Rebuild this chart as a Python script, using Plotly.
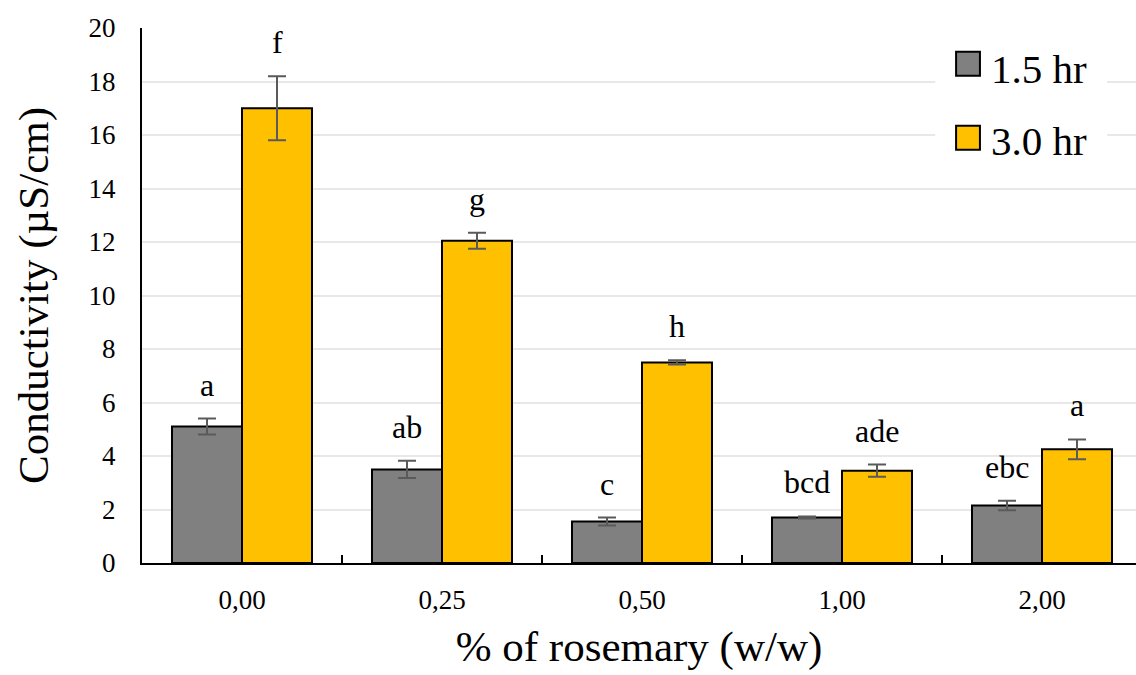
import plotly.graph_objects as go

# Conductivity of samples by rosemary content, measured after 1.5 h and 3.0 h
categories = ["0,00", "0,25", "0,50", "1,00", "2,00"]

cond_15 = [5.1, 3.5, 1.55, 1.7, 2.15]
err_15 = [0.3, 0.32, 0.15, 0.04, 0.18]
letters_15 = ["a", "ab", "c", "bcd", "ebc"]

cond_30 = [17.0, 12.05, 7.5, 3.45, 4.25]
err_30 = [1.2, 0.3, 0.08, 0.23, 0.37]
letters_30 = ["f", "g", "h", "ade", "a"]

series_names = ["1.5 hr", "3.0 hr"]
y_ticks = list(range(0, 21, 2))

GRAY = "#808080"
GOLD = "#FFC000"
ERR = "#5a5a5a"
FONT = "Liberation Serif"

fig = go.Figure()

for name, vals, errs, color in [
    (series_names[0], cond_15, err_15, GRAY),
    (series_names[1], cond_30, err_30, GOLD),
]:
    fig.add_trace(go.Bar(
        name=name,
        x=categories,
        y=vals,
        marker=dict(color=color, line=dict(color="black", width=2)),
        error_y=dict(type="data", array=errs, visible=True,
                     color=ERR, thickness=2, width=9),
        showlegend=False,
    ))

# significance letters above each error bar
for vals, errs, letters, offset in [
    (cond_15, err_15, letters_15, -0.175),
    (cond_30, err_30, letters_30, 0.175),
]:
    for i, (v, e, t) in enumerate(zip(vals, errs, letters)):
        fig.add_annotation(
            x=i + offset, y=v + e, xref="x", yref="y",
            text=t, showarrow=False, yanchor="middle", yshift=34,
            font=dict(family=FONT, size=32, color="black"),
        )

# legend box drawn in paper space
legend_items = [(series_names[0], GRAY, 0.933, 0.924), (series_names[1], GOLD, 0.795, 0.789)]
fig.add_shape(type="rect", xref="paper", yref="paper",
              x0=0.798, x1=0.971, y0=0.744, y1=0.978,
              fillcolor="white", line=dict(width=0), layer="above")
for label, color, ys, yt in legend_items:
    fig.add_shape(type="rect", xref="paper", yref="paper",
                  x0=0.819, x1=0.843, y0=ys - 0.0224, y1=ys + 0.0224,
                  fillcolor=color, line=dict(color="black", width=2), layer="above")
    fig.add_annotation(x=0.852, y=yt, xref="paper", yref="paper",
                       text=label, showarrow=False, xanchor="left", yanchor="middle",
                       font=dict(family=FONT, size=41, color="black"))

fig.update_layout(
    width=1136, height=675,
    margin=dict(l=142, r=0, t=28, b=112),
    paper_bgcolor="white", plot_bgcolor="white",
    barmode="group", bargap=0.3, bargroupgap=0.0,
    font=dict(family=FONT, color="black"),
    showlegend=False,
)

fig.update_xaxes(
    type="category", range=[-0.5, 4.47],
    showline=True, linecolor="black", linewidth=2,
    ticks="inside", tickson="boundaries", ticklen=8, tickwidth=2, tickcolor="black",
    tickfont=dict(family=FONT, size=27), ticklabelstandoff=12,
    title=dict(text="% of rosemary (w/w)", font=dict(family=FONT, size=43), standoff=16),
    showgrid=False, zeroline=False,
)

fig.update_yaxes(
    range=[0, 20], tickvals=y_ticks,
    showline=True, linecolor="black", linewidth=2,
    showgrid=True, gridcolor="#e8e8e8", gridwidth=2,
    ticks="", tickfont=dict(family=FONT, size=27), ticklabelstandoff=19,
    title=dict(text="Conductivity (µS/cm)", font=dict(family=FONT, size=43), standoff=27),
    zeroline=False,
)

fig.write_html("out.html")
